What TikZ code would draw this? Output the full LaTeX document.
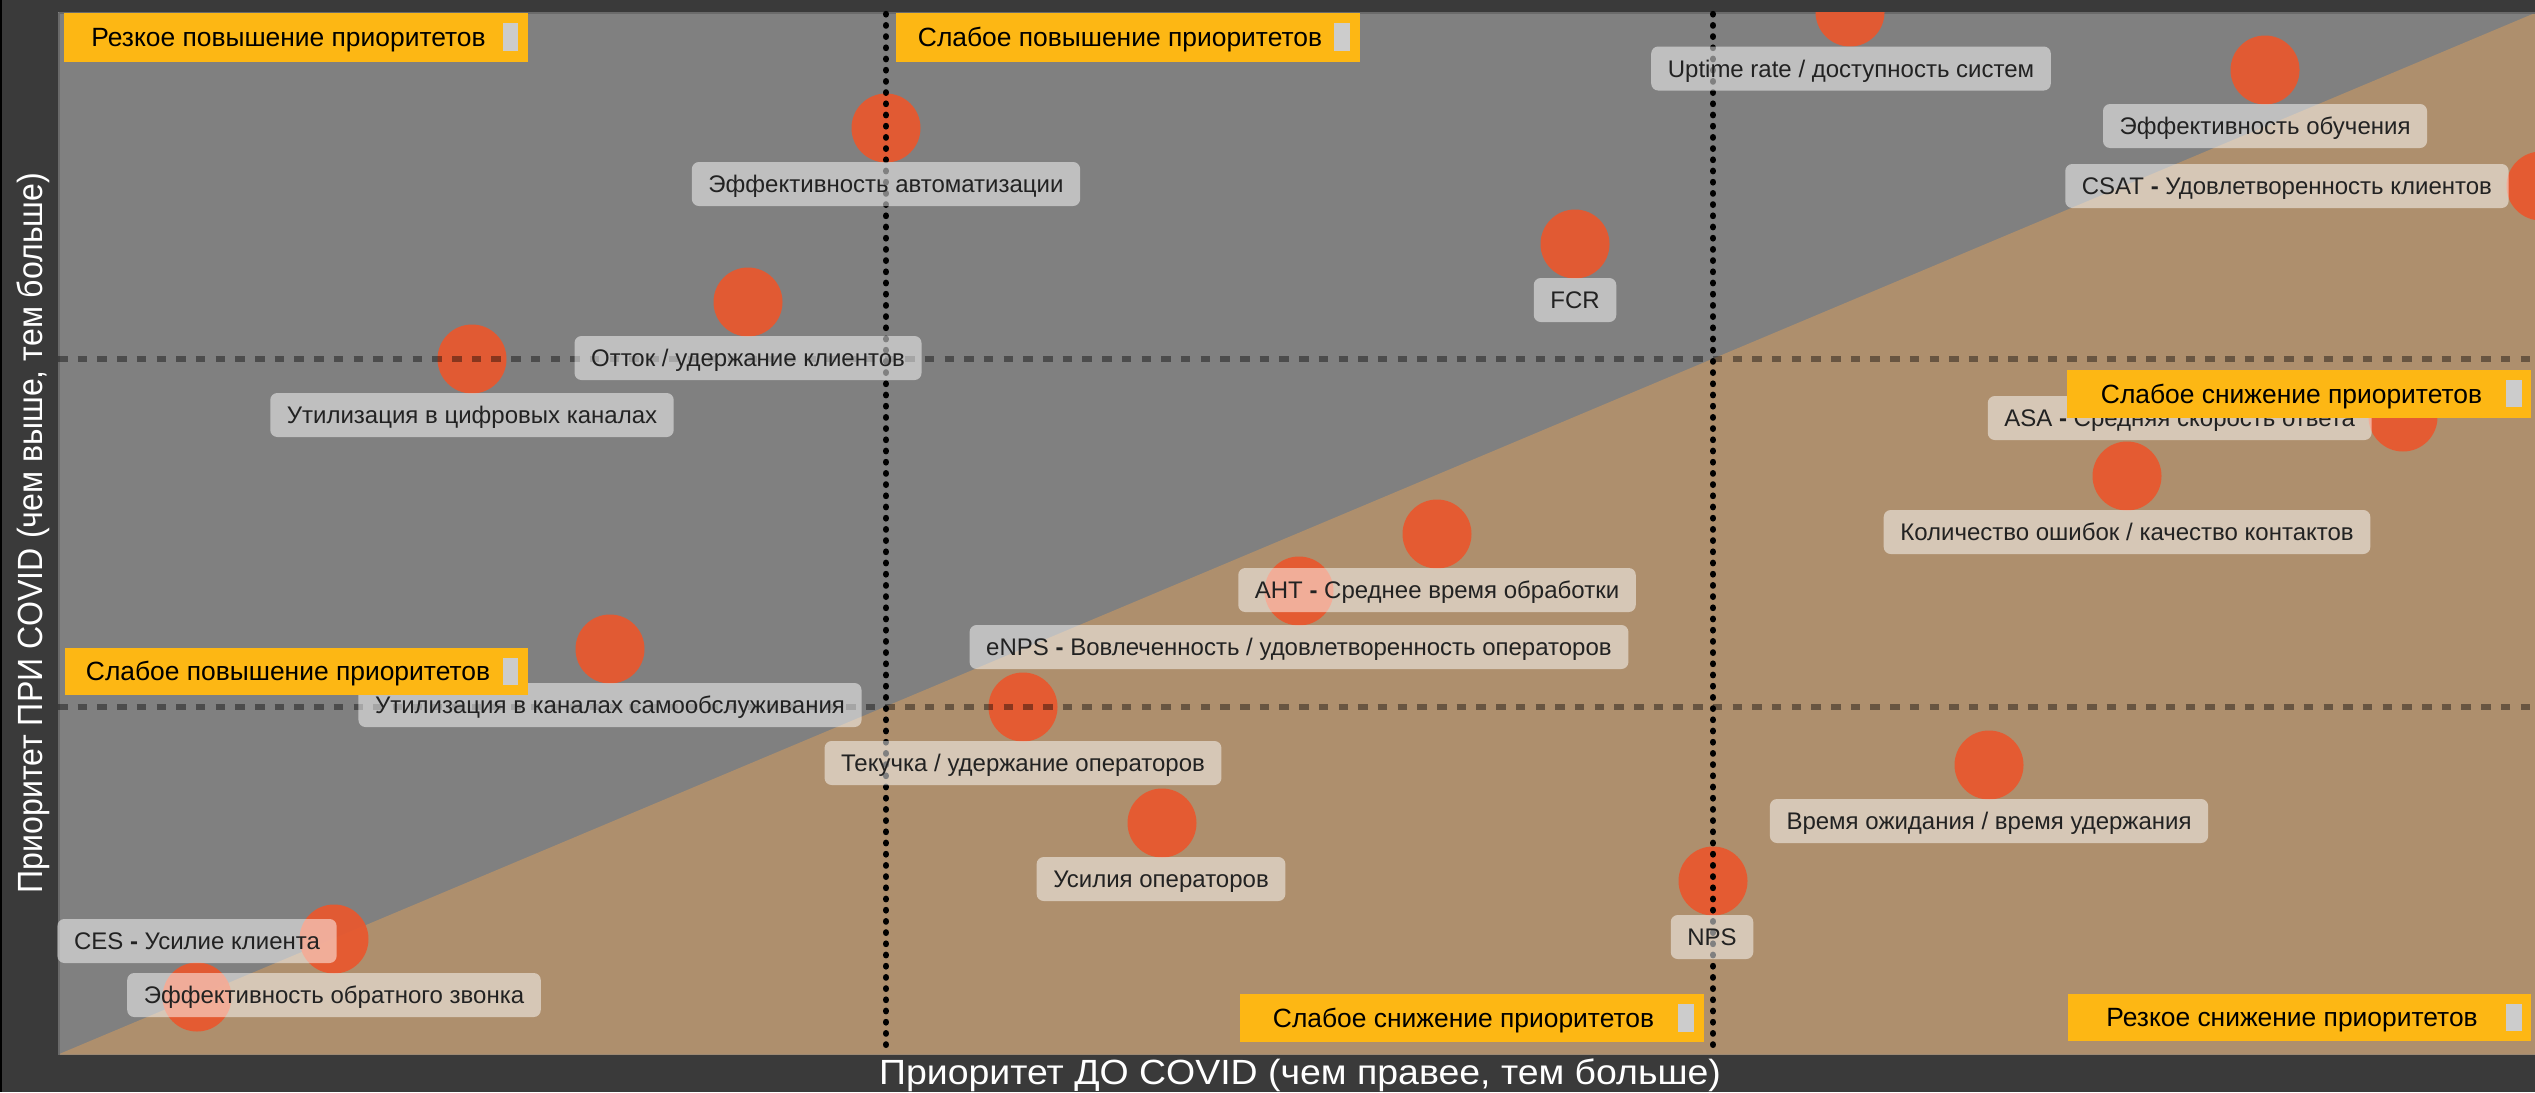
\documentclass[tikz,border=0pt]{standalone}
\usepackage{fontspec}
\setmainfont{Liberation Sans}
\definecolor{bgdark}{HTML}{3A3A3A}
\definecolor{plotgray}{HTML}{808080}
\definecolor{plotedge}{HTML}{6A6A6A}
\definecolor{tanc}{HTML}{AE8F6D}
\definecolor{bubc}{RGB}{233,88,46}
\definecolor{ylw}{HTML}{FDB714}
\definecolor{ygr}{HTML}{CCCCCC}
\definecolor{lbltext}{HTML}{222222}
\begin{document}
\begin{tikzpicture}[x=0.5pt,y=-0.5pt,
  bub/.style={circle, fill=bubc, fill opacity=0.93, minimum size=34.5pt, inner sep=0pt},
  lbl/.style={fill=white, fill opacity=0.5, text opacity=1, text=lbltext, rounded corners=3.5pt,
    minimum height=22pt, inner xsep=8.3pt, inner ysep=0pt, text height=8.6pt, text depth=0pt,
    font=\fontsize{12}{14}\selectfont},
  ytxt/.style={inner sep=0pt, text=black, text height=9.45pt, text depth=0pt,
    font=\fontsize{13.2}{15}\selectfont},
  vdots/.style={black, line width=3.2pt, line cap=round, dash pattern=on 0.2pt off 5.4pt},
  hdash/.style={black, draw opacity=0.4, line width=3.3pt, dash pattern=on 4.75pt off 5.1pt},
  axtitle/.style={text=white, inner sep=0pt, font=\fontsize{17.5}{20}\selectfont}]
\useasboundingbox (0,0) rectangle (2535,1092);
% background
\fill[bgdark] (0,0) rectangle (2535,1092);
\fill[black] (0,0) rectangle (1.5,1092);
\fill[plotgray] (58,12) rectangle (2535,1054.5);
\fill[tanc] (58,1054.5) -- (2535,1054.5) -- (2535,13) -- cycle;
\draw[plotedge, line width=1pt] (58.5,12.5) -- (58.5,1054.5);
\draw[plotedge, line width=1pt] (58.5,12.5) -- (2535,12.5);
% bubbles
\begin{scope}
\clip (58,12) rectangle (2535,1054.5);
\node[bub] (c1) at (1850,12) {};
\node[bub] (c2) at (2265,70) {};
\node[bub] (c3) at (2541,186) {};
\node[bub] (c4) at (886,128) {};
\node[bub] (c5) at (1575,244) {};
\node[bub] (c6) at (748,302) {};
\node[bub] (c7) at (472,359) {};
\node[bub] (c8) at (610,649) {};
\node[bub] (c9) at (334,939) {};
\node[bub] (c10) at (197,997) {};
\node[bub] (c11) at (1437,534) {};
\node[bub] (c12) at (1299,591) {};
\node[bub] (c13) at (1023,707) {};
\node[bub] (c14) at (1162,823) {};
\node[bub] (c15) at (1713,881) {};
\node[bub] (c16) at (2403,417) {};
\node[bub] (c17) at (2127,476) {};
\node[bub] (c18) at (1989,765) {};
\end{scope}
% grid lines
\coordinate (h1a) at (58,359);  \coordinate (h1b) at (2535,359);
\coordinate (h2a) at (58,707);  \coordinate (h2b) at (2535,707);
\coordinate (v1a) at (886,14);  \coordinate (v1b) at (886,1054);
\coordinate (v2a) at (1713,14); \coordinate (v2b) at (1713,1054);
\draw[hdash] (h1a) -- (h1b);
\draw[hdash] (h2a) -- (h2b);
\draw[vdots] (v1a) -- (v1b);
\draw[vdots] (v2a) -- (v2b);
% labels
\node[lbl] (l1) at (1851,68.5) {Uptime rate / доступность систем};
\node[lbl] (l2) at (2265,126) {Эффективность обучения};
\node[lbl, anchor=east] (l3) at (2509,186) {CSAT {\bfseries -} Удовлетворенность клиентов};
\node[lbl] (l4) at (886,184) {Эффективность автоматизации};
\node[lbl] (l5) at (1575,300) {FCR};
\node[lbl] (l6) at (748,358) {Отток / удержание клиентов};
\node[lbl] (l7) at (472,415) {Утилизация в цифровых каналах};
\node[lbl] (l8) at (610,705) {Утилизация в каналах самообслуживания};
\node[lbl, anchor=west] (l9) at (57,941) {CES {\bfseries -} Усилие клиента};
\node[lbl] (l10) at (334,995) {Эффективность обратного звонка};
\node[lbl] (l11) at (1437,590) {AHT {\bfseries -} Среднее время обработки};
\node[lbl] (l12) at (1299,647) {eNPS {\bfseries -} Вовлеченность / удовлетворенность операторов};
\node[lbl] (l13) at (1023,763) {Текучка / удержание операторов};
\node[lbl] (l14) at (1161,879) {Усилия операторов};
\node[lbl] (l15) at (1712,937) {NPS};
\node[lbl, anchor=east] (l16) at (2372,418) {ASA {\bfseries -} Средняя скорость ответа};
\node[lbl] (l17) at (2127,532) {Количество ошибок / качество контактов};
\node[lbl] (l18) at (1989,821) {Время ожидания / время удержания};
% quadrant tags
\fill[ylw] (64,13) rectangle (528,62);
\fill[ygr] (503,23) rectangle (518,51);
\node[ytxt] (qa) at (288.5,37.5) {Резкое повышение приоритетов};
\fill[ylw] (896,13) rectangle (1360,62);
\fill[ygr] (1334,23) rectangle (1350,51);
\node[ytxt] (qb) at (1120,37.5) {Слабое повышение приоритетов};
\fill[ylw] (65,648) rectangle (528,695);
\fill[ygr] (503,658) rectangle (518,685);
\node[ytxt] (qc) at (288,671.5) {Слабое повышение приоритетов};
\fill[ylw] (2067,370) rectangle (2531,418);
\fill[ygr] (2506,380) rectangle (2522,407);
\node[ytxt] (qd) at (2291.5,394) {Слабое снижение приоритетов};
\fill[ylw] (1240,994) rectangle (1704,1042);
\fill[ygr] (1678,1004) rectangle (1694,1032);
\node[ytxt] (qe) at (1463.5,1018) {Слабое снижение приоритетов};
\fill[ylw] (2068,994) rectangle (2531,1041);
\fill[ygr] (2506,1004) rectangle (2522,1031);
\node[ytxt] (qf) at (2292,1017.5) {Резкое снижение приоритетов};
% axis titles
\node[axtitle, anchor=base] (xt) at (1300,1084) {\scalebox{1.07}[1]{Приоритет ДО COVID (чем правее, тем больше)}};
\node[axtitle, anchor=base, rotate=90] (yt) at (42,533) {\scalebox{0.917}[1]{Приоритет ПРИ COVID (чем выше, тем больше)}};
\end{tikzpicture}
\end{document}
